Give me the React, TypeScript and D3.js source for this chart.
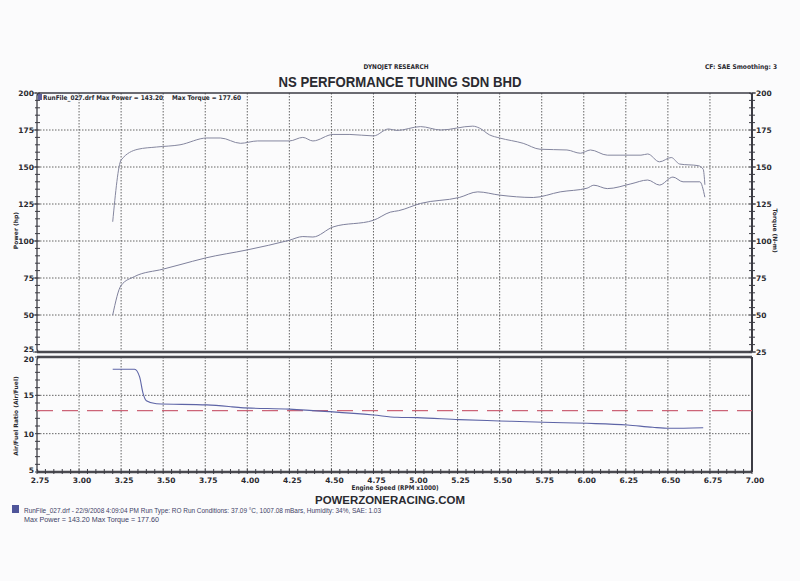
import React, { useEffect, useRef } from "react";
import * as d3 from "d3";

// x axis: engine speed (RPM x1000)
const rpmTicks = [2.75, 3.0, 3.25, 3.5, 3.75, 4.0, 4.25, 4.5, 4.75, 5.0, 5.25, 5.5, 5.75, 6.0, 6.25, 6.5, 6.75, 7.0];
// left / right axis of the power & torque plot
const powerTicks = [25, 50, 75, 100, 125, 150, 175, 200];
const afrTicks = [5, 10, 15, 20];

// power (hp)
const powerRpm = [3.2, 3.25, 3.33, 3.5, 3.6, 3.75, 4.0, 4.25, 4.33, 4.39, 4.51, 4.75, 4.85, 4.9, 5.03, 5.26, 5.37, 5.5, 5.7, 5.86, 6.02, 6.06, 6.14, 6.28, 6.38, 6.45, 6.53, 6.59, 6.69, 6.72];
const powerHp = [50, 70, 76, 81, 84, 88.5, 94, 100.5, 103, 102.7, 109.5, 114, 119.5, 120.5, 125.4, 129.4, 133.2, 131, 129.4, 133.2, 135.7, 137.7, 135.4, 138.6, 141.2, 137.8, 143.2, 140, 140, 129.6];

// torque (N-m)
const torqueRpm = [3.2, 3.25, 3.35, 3.46, 3.6, 3.76, 3.84, 3.96, 4.06, 4.25, 4.33, 4.39, 4.51, 4.61, 4.75, 4.84, 4.89, 5.03, 5.15, 5.34, 5.38, 5.44, 5.5, 5.64, 5.74, 5.9, 5.98, 6.04, 6.14, 6.34, 6.38, 6.45, 6.52, 6.57, 6.68, 6.71, 6.72];
const torqueNm = [113, 154.7, 162, 163.5, 165, 169.6, 169.6, 166, 167.6, 167.6, 170, 167.6, 172, 172, 171, 175.7, 174.7, 177.3, 175, 177.6, 176.3, 171.7, 169.6, 166, 162, 161.5, 159.3, 161.5, 158, 158, 158.8, 153.5, 156.4, 152, 150.9, 148.5, 138];

// air/fuel ratio
const afrRpm = [3.2, 3.33, 3.36, 3.38, 3.4, 3.46, 3.76, 3.91, 3.96, 4.25, 4.49, 4.75, 4.89, 5.01, 5.26, 5.5, 5.76, 6.02, 6.26, 6.41, 6.51, 6.71];
const afrVal = [18.4, 18.4, 17.4, 15.3, 14.3, 13.9, 13.75, 13.5, 13.4, 13.2, 12.87, 12.43, 12.14, 12.09, 11.83, 11.66, 11.49, 11.35, 11.13, 10.83, 10.7, 10.78];
const afrTarget = 13.0;

const W = 800;
const H = 581;
const VERD = "'DejaVu Sans', Verdana, sans-serif";
const ARIAL = "'Liberation Sans', Arial, sans-serif";

const App = () => {
  const svgRef = useRef<SVGSVGElement>(null);

  useEffect(() => {
    const svg = d3.select(svgRef.current);
    svg.selectAll("*").remove();

    const left = 37, right = 752;
    const top = { y0: 93, y1: 352 };
    const bot = { y0: 357, y1: 472 };

    const x = d3.scaleLinear().domain([2.75, 7.0]).range([left, right]);
    const yP = d3.scaleLinear().domain([25, 200]).range([top.y1, top.y0]);
    const yA = d3.scaleLinear().domain([5, 20]).range([bot.y1, bot.y0]);

    svg.append("rect").attr("width", W).attr("height", H).attr("fill", "#fbfbfc");

    const ink = "#3c3c44";

    // grid
    const grid = svg.append("g").attr("stroke", "#555").attr("stroke-width", 0.9).attr("stroke-dasharray", "1.5,1.5");
    rpmTicks.slice(1, -1).forEach((t) => {
      grid.append("line").attr("x1", x(t)).attr("x2", x(t)).attr("y1", top.y0).attr("y2", top.y1);
      grid.append("line").attr("x1", x(t)).attr("x2", x(t)).attr("y1", bot.y0).attr("y2", bot.y1);
    });
    powerTicks.slice(1, -1).forEach((t) => {
      grid.append("line").attr("x1", left).attr("x2", right).attr("y1", yP(t)).attr("y2", yP(t));
    });
    afrTicks.slice(1, -1).forEach((t) => {
      grid.append("line").attr("x1", left).attr("x2", right).attr("y1", yA(t)).attr("y2", yA(t));
    });

    // frames
    svg.append("rect").attr("x", left).attr("y", top.y0).attr("width", right - left).attr("height", top.y1 - top.y0)
      .attr("rx", 3).attr("fill", "none").attr("stroke", ink).attr("stroke-width", 1.3);
    svg.append("rect").attr("x", left).attr("y", bot.y0).attr("width", right - left).attr("height", bot.y1 - bot.y0)
      .attr("rx", 3).attr("fill", "none").attr("stroke", ink).attr("stroke-width", 1.3);
    [top.y1, bot.y0, bot.y1].forEach((yy) => {
      svg.append("line").attr("x1", left).attr("x2", right).attr("y1", yy).attr("y2", yy)
        .attr("stroke", "#4a4a50").attr("stroke-width", 2.6);
    });
    svg.append("line").attr("x1", right).attr("x2", right).attr("y1", top.y0).attr("y2", top.y1)
      .attr("stroke", ink).attr("stroke-width", 2);
    svg.append("line").attr("x1", right).attr("x2", right).attr("y1", bot.y0).attr("y2", bot.y1)
      .attr("stroke", ink).attr("stroke-width", 2);

    // minor ticks
    const ticks = svg.append("g").attr("stroke", ink).attr("stroke-width", 1);
    d3.range(25, 200.001, 5).forEach((v) => {
      ticks.append("line").attr("x1", left - 2).attr("x2", left + 3).attr("y1", yP(v)).attr("y2", yP(v));
      ticks.append("line").attr("x1", right - 3).attr("x2", right + 3).attr("y1", yP(v)).attr("y2", yP(v));
    });
    powerTicks.forEach((v) => {
      ticks.append("line").attr("x1", left - 4).attr("x2", left).attr("y1", yP(v)).attr("y2", yP(v));
      ticks.append("line").attr("x1", right).attr("x2", right + 4).attr("y1", yP(v)).attr("y2", yP(v));
    });
    d3.range(5, 20.001, 1).forEach((v) => {
      ticks.append("line").attr("x1", left - 2).attr("x2", left + 3).attr("y1", yA(v)).attr("y2", yA(v));
    });
    d3.range(2.75, 7.0001, 0.05).forEach((v) => {
      ticks.append("line").attr("x1", x(v)).attr("x2", x(v)).attr("y1", bot.y1 - 3).attr("y2", bot.y1 + 2);
    });

    const txt = (xx: number, yy: number, s: string, size: number, opts: any = {}) => {
      const t = svg.append("text").attr("x", xx).attr("y", yy).text(s)
        .attr("font-family", opts.family || VERD).attr("font-size", size)
        .attr("font-weight", opts.weight || "bold").attr("fill", opts.fill || "#2a2a30")
        .attr("text-anchor", opts.anchor || "start");
      if (opts.len) t.attr("textLength", opts.len).attr("lengthAdjust", "spacingAndGlyphs");
      return t;
    };

    // axis labels
    powerTicks.forEach((v) => {
      txt(left - 3, yP(v) + (v === 25 ? 0 : 3), String(v), 7.5, { anchor: "end" });
      txt(right + 4, yP(v) + 3, String(v), 7.5);
    });
    afrTicks.forEach((v) => {
      txt(left - 3, yA(v) + (v === 20 ? 4.5 : v === 5 ? 1 : 3), String(v), 7.5, { anchor: "end" });
    });
    const fmt = d3.format(".2f");
    rpmTicks.forEach((t) => txt(x(t) + 3, bot.y1 + 11, fmt(t), 7.5, { anchor: "middle" }));

    txt(0, 0, "Power (hp)", 6, { anchor: "middle" }).attr("transform", `translate(18,${yP(107)}) rotate(-90)`);
    txt(0, 0, "Torque (N-m)", 6, { anchor: "middle" }).attr("transform", `translate(773,${yP(107)}) rotate(90)`);
    txt(0, 0, "Air/Fuel Ratio (Air/Fuel)", 6, { anchor: "middle" }).attr("transform", `translate(18,${yA(12.3)}) rotate(-90)`);
    txt(395, bot.y1 + 18, "Engine Speed (RPM x1000)", 6.5, { anchor: "middle", len: 87 });

    // titles
    txt(396, 69, "DYNOJET RESEARCH", 6.5, { anchor: "middle", len: 65 });
    txt(400, 87, "NS PERFORMANCE TUNING SDN BHD", 15, { anchor: "middle", family: ARIAL, len: 243 });
    txt(705, 69, "CF: SAE  Smoothing: 3", 6.5, { len: 72 });

    // legend in plot
    svg.append("rect").attr("x", left + 1).attr("y", top.y0 + 1).attr("width", 4).attr("height", 6).attr("fill", "#5c5f9a");
    txt(left + 6, top.y0 + 7, "RunFile_027.drf Max Power = 143.20", 6.5, { len: 120 });
    txt(172, top.y0 + 7, "Max Torque = 177.60", 6.5, { len: 69 });

    // curves
    const line = d3.line<[number, number]>().x((d) => x(d[0])).curve(d3.curveMonotoneX);
    const pData = powerRpm.map((r, i) => [r, powerHp[i]] as [number, number]);
    const tData = torqueRpm.map((r, i) => [r, torqueNm[i]] as [number, number]);
    const aData = afrRpm.map((r, i) => [r, afrVal[i]] as [number, number]);

    svg.append("path").attr("fill", "none").attr("stroke", "#7f819c").attr("stroke-width", 1)
      .attr("d", line.y((d) => yP(d[1]))(pData));
    svg.append("path").attr("fill", "none").attr("stroke", "#85879f").attr("stroke-width", 1)
      .attr("d", line.y((d) => yP(d[1]))(tData));

    svg.append("line").attr("x1", left).attr("x2", right).attr("y1", yA(afrTarget)).attr("y2", yA(afrTarget))
      .attr("stroke", "#cc6477").attr("stroke-width", 1.2).attr("stroke-dasharray", "16,9");
    svg.append("path").attr("fill", "none").attr("stroke", "#5d64a6").attr("stroke-width", 1.1)
      .attr("d", line.y((d) => yA(d[1]))(aData));

    // footer
    txt(390, 504, "POWERZONERACING.COM", 11.5, { anchor: "middle", family: ARIAL, len: 150 });
    svg.append("rect").attr("x", 12).attr("y", 505).attr("width", 7).attr("height", 8).attr("fill", "#4f559a");
    txt(24, 513, "RunFile_027.drf - 22/9/2008 4:09:04 PM  Run Type: RO  Run Conditions: 37.09 °C, 1007.08 mBars,  Humidity: 34%, SAE: 1.03", 7.5,
      { family: ARIAL, weight: "normal", fill: "#3d4266", len: 357 });
    txt(24, 522, "Max Power = 143.20  Max Torque = 177.60", 7.5, { family: ARIAL, weight: "normal", fill: "#3d4266", len: 135 });
  }, []);

  return (
    <svg
      ref={svgRef}
      width={W}
      height={H}
      style={{ position: "absolute", left: 0, top: 0, display: "block" }}
    ></svg>
  );
};

export default App;
